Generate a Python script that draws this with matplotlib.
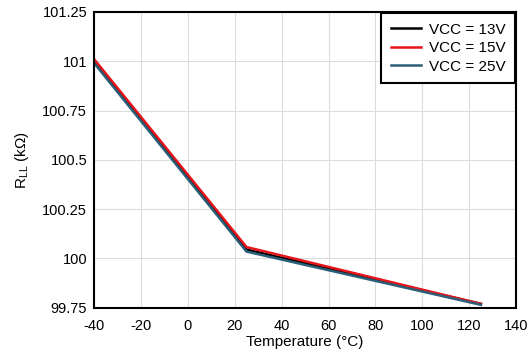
import matplotlib
matplotlib.use("Agg")
import matplotlib.pyplot as plt

plt.rcParams['font.family'] = ['Liberation Sans', 'DejaVu Sans']
plt.rcParams['axes.unicode_minus'] = False

temps = [-40, 25, 125]
r_13v = [101.00, 100.045, 99.77]
r_15v = [101.01, 100.058, 99.77]
r_25v = [100.99, 100.035, 99.765]

labels = ['VCC = 13V', 'VCC = 15V', 'VCC = 25V']
colors = ['#000000', '#e8141c', '#2a5f78']

xticks = [-40, -20, 0, 20, 40, 60, 80, 100, 120, 140]
yticks = [99.75, 100, 100.25, 100.5, 100.75, 101, 101.25]
ytick_labels = ['99.75', '100', '100.25', '100.5', '100.75', '101', '101.25']

fig = plt.figure(figsize=(5.32, 3.6), dpi=100)
ax = fig.add_axes([0.177, 0.145, 0.793, 0.822])

for vals, lab, c in zip([r_13v, r_15v, r_25v], labels, colors):
    ax.plot(temps, vals, color=c, lw=1.8, label=lab)

ax.set_xlim(-40, 140)
ax.set_ylim(99.75, 101.25)
ax.set_xticks(xticks)
ax.set_yticks(yticks)
ax.set_yticklabels(ytick_labels)
ax.tick_params(length=0, labelsize=10.5)
ax.tick_params(axis='x', pad=8)
ax.tick_params(axis='y', pad=5)
ax.grid(True, color='#dcdcdc', lw=0.8)
for s in ax.spines.values():
    s.set_linewidth(1.5)

ax.set_xlabel('Temperature (°C)', fontsize=11, labelpad=1.5)
ax.set_ylabel('R$_{\\mathregular{LL}}$ (kΩ)', fontsize=11, labelpad=8)

leg = ax.legend(loc='upper right', fontsize=11, frameon=True, fancybox=False,
                edgecolor='black', framealpha=1, borderaxespad=0.1,
                handlelength=2.0, handletextpad=0.5, labelspacing=0.3,
                borderpad=0.6)
leg.get_frame().set_linewidth(1.5)

fig.savefig('out.png', dpi=100)
